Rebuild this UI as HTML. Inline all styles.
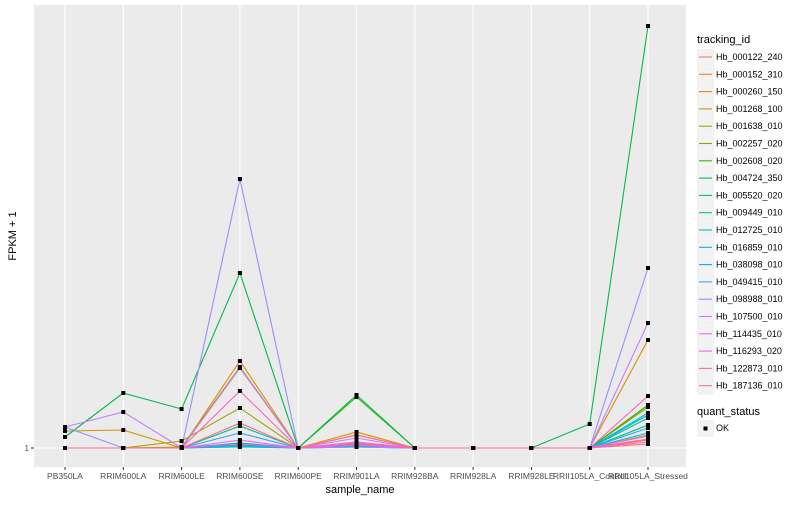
<!DOCTYPE html>
<html><head><meta charset="utf-8"><style>
body{margin:0;background:#fff;font-family:"Liberation Sans",Arial,sans-serif;}
svg text{font-family:"Liberation Sans",Arial,sans-serif;}
</style></head><body>
<svg id="chart" width="800" height="500" xmlns="http://www.w3.org/2000/svg">
<rect x="0" y="0" width="800" height="500" fill="#fff"/>
<rect x="34" y="5" width="652" height="462" fill="#EBEBEB"/>
<g id="grid"></g><g id="lines"></g><g id="points"></g><g id="xaxis"></g><g id="legend"></g>
<text x="29" y="451" font-size="8" fill="#4d4d4d" text-anchor="end">1</text>
<line x1="31" y1="448" x2="34" y2="448" stroke="#333" stroke-width="1"/>
<text x="360" y="493" font-size="11" text-anchor="middle" fill="#000">sample_name</text>
<text transform="translate(16,236) rotate(-90)" font-size="11" text-anchor="middle" fill="#000">FPKM + 1</text>
</svg>
<script>
const categories=["PB350LA","RRIM600LA","RRIM600LE","RRIM600SE","RRIM600PE","RRIM901LA","RRIM928BA","RRIM928LA","RRIM928LE","RRII105LA_Control","RRII105LA_Stressed"];
const seriesNames=["Hb_000122_240","Hb_000152_310","Hb_000260_150","Hb_001268_100","Hb_001638_010","Hb_002257_020","Hb_002608_020","Hb_004724_350","Hb_005520_020","Hb_009449_010","Hb_012725_010","Hb_016859_010","Hb_038098_010","Hb_049415_010","Hb_098988_010","Hb_107500_010","Hb_114435_010","Hb_116293_020","Hb_122873_010","Hb_187136_010"];
const colors=["#F8766D","#EA8331","#D89000","#C09B00","#A3A500","#7CAE00","#39B600","#00BB4E","#00BF7D","#00C1A3","#00BFC4","#00BAE0","#00B0F6","#35A2FF","#9590FF","#C77CFF","#E76BF3","#FA62DB","#FF62BC","#FF6C91"];
const s0=[1,1,1,1.3,1,1.6,1,1,1,1,1.4];
const s1=[1,1,1,1.5,1,2.3,1,1,1,1,1.8];
const s2=[2.7,2.8,1,9.7,1,2.6,1,1,1,1,11.8];
const s3=[1,1,1.1,9.1,1,1.4,1,1,1,1,2.3];
const s4=[1,1,1.7,5.0,1,1.2,1,1,1,1,5.3];
const s5=[1,1,1,9.0,1,1.5,1,1,1,1,5.1];
const s6=[1,1,1,1.4,1,6.1,1,1,1,1,5.3];
const s7=[2.1,6.5,4.9,18.5,1,6.3,1,1,1,3.4,43.2];
const s8=[1,1,1,3.2,1,1.3,1,1,1,1,3.3];
const s9=[1,1,1,1.3,1,1.1,1,1,1,1,4.0];
const s10=[1,1,1,1.2,1,1.2,1,1,1,1,4.3];
const s11=[1,1,1,1.1,1,1.1,1,1,1,1,2.5];
const s12=[1,1,1,1.5,1,1.2,1,1,1,1,4.5];
const s13=[1,1,1,2.5,1,1.3,1,1,1,1,3.0];
const s14=[3.1,1,1,27.9,1,1.1,1,1,1,1,19.0];
const s15=[3.1,4.6,1,9.0,1,2.0,1,1,1,1,13.5];
const s16=[1,1,1,1.8,1,1.6,1,1,1,1,2.2];
const s17=[1,1,1,1.4,1,1.3,1,1,1,1,1.6];
const s18=[1,1,1,6.7,1,1.5,1,1,1,1,6.2];
const s19=[1,1,1,3.5,1,2.3,1,1,1,1,1.9];
const series=[s0,s1,s2,s3,s4,s5,s6,s7,s8,s9,s10,s11,s12,s13,s14,s15,s16,s17,s18,s19];
const NS="http://www.w3.org/2000/svg";
const xScale=i=>65+i*(583/10);
const yScale=v=>448-(v-1)*10;
function mk(tag,attrs,parent){const e=document.createElementNS(NS,tag);for(const k in attrs)e.setAttribute(k,attrs[k]);parent.appendChild(e);return e;}
const grid=document.getElementById('grid');
categories.forEach((c,i)=>{
  const l=mk('line',{x1:xScale(i),x2:xScale(i),y1:5,y2:467,stroke:'#fff','stroke-width':1.1},grid);
  
  
});
const hl=mk('line',{x1:34,x2:686,y1:yScale(1),y2:yScale(1),stroke:'#fff','stroke-width':1.1},grid);


const xa=document.getElementById('xaxis');
categories.forEach((c,i)=>{
  mk('line',{x1:xScale(i),x2:xScale(i),y1:467,y2:470,stroke:'#333'},xa);
  const t=mk('text',{x:xScale(i),y:479,'font-size':8.5,fill:'#4d4d4d','text-anchor':'middle'},xa);
  t.textContent=c;
  
  
});
const lg=document.getElementById('lines'),pg=document.getElementById('points');
series.forEach((s,k)=>{
  const p=mk('polyline',{points:s.map((v,i)=>xScale(i)+','+yScale(v)).join(' '),fill:'none',stroke:colors[k],'stroke-width':1.1},lg);
  
  
});
series.forEach((s,k)=>{
  s.forEach((v,i)=>{
    const r=mk('rect',{x:xScale(i)-2,y:yScale(v)-2,width:4,height:4,fill:'#000'},pg);
    
    
  });
});
const leg=document.getElementById('legend');
const tt=mk('text',{x:697,y:43,'font-size':11,fill:'#000'},leg);
tt.textContent='tracking_id';


seriesNames.forEach((n,k)=>{
  const y=57+k*17.3;
  mk('rect',{x:697,y:y-8,width:17,height:17,fill:'#F2F2F2'},leg);
  mk('line',{x1:699,x2:712,y1:y,y2:y,stroke:colors[k],'stroke-width':1.1},leg);
  const t=mk('text',{x:716,y:y+3,'font-size':9,fill:'#000'},leg);
  t.textContent=n;
  
  
});
const qt=mk('text',{x:697,y:415,'font-size':11,fill:'#000'},leg);
qt.textContent='quant_status';


mk('rect',{x:697,y:420,width:17,height:17,fill:'#F2F2F2'},leg);
mk('rect',{x:703.5,y:426.5,width:4,height:4,fill:'#000'},leg);
const ok=mk('text',{x:716,y:431,'font-size':9,fill:'#000'},leg);
ok.textContent='OK';


</script>
</body></html>
